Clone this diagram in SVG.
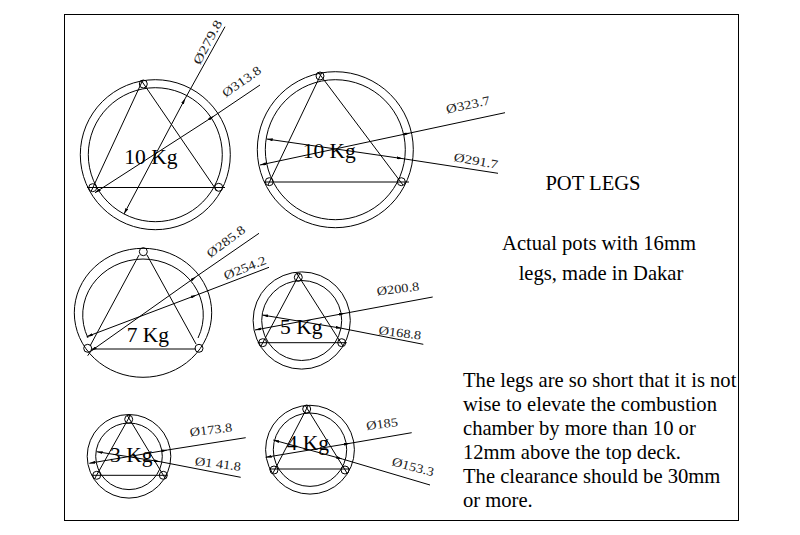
<svg xmlns="http://www.w3.org/2000/svg" width="800" height="535" viewBox="0 0 800 535">
<defs>
<marker id="b" viewBox="0 0 6 3" refX="6" refY="1.5" markerWidth="6" markerHeight="3" markerUnits="userSpaceOnUse" orient="auto-start-reverse"><path d="M6 1.5L0 0V3Z" fill="#000"/></marker>
</defs>
<style>
text{font-family:"Liberation Serif","Times New Roman",serif;fill:#000}
.c,.s,.t{fill:none;stroke:#000;stroke-width:1}
.d{stroke:#000;stroke-width:1;fill:none}
.m{stroke:#000;stroke-width:1;fill:none;marker-start:url(#b);marker-end:url(#b)}
.k{font-size:21.5px}
.l{font-size:12.5px;fill:#222}
.n{font-size:20.6px}
</style>
<rect width="800" height="535" fill="#fff"/>
<rect x="64.5" y="14.5" width="674" height="506" fill="none" stroke="#000"/>
<g id="pot-10kg-a">
<circle class="c" cx="155.3" cy="154.7" r="75"/><circle class="c" cx="155.3" cy="154.7" r="67"/>
<circle class="s" cx="143.3" cy="84" r="4"/><circle class="s" cx="92.7" cy="187.7" r="4"/><circle class="s" cx="218.7" cy="187.3" r="4"/>
<path class="t" d="M87 187.5H225M142.8 80L91.3 191M141 80L217 191"/>
<text class="k" x="124.3" y="164">10 Kg</text>
<text class="l" transform="translate(207.7 42.3) rotate(-62) scale(1.3 1)" text-anchor="middle" dy="4">Ø279.8</text>
<text class="l" transform="translate(241.7 81.7) rotate(-35) scale(1.2 1)" text-anchor="middle" dy="4">Ø313.8</text>
</g>
<g id="pot-10kg-b">
<circle class="c" cx="335.3" cy="149.7" r="78"/><circle class="c" cx="335.3" cy="149.7" r="70"/>
<circle class="s" cx="320" cy="76" r="4"/><circle class="s" cx="269.3" cy="181.7" r="4"/><circle class="s" cx="401.3" cy="181.7" r="4"/>
<path class="t" d="M264 182H409M322 72L268 185M318 72L403 185"/>
<text class="k" x="302.7" y="158">10 Kg</text>
<text class="l" transform="translate(468 105) rotate(-12) scale(1.2 1)" text-anchor="middle" dy="4">Ø323.7</text>
<text class="l" transform="translate(476 161) rotate(10) scale(1.2 1)" text-anchor="middle" dy="4">Ø291.7</text>
</g>
<g id="pot-7kg">
<ellipse class="c" cx="143" cy="312.8" rx="68.7" ry="64.5"/>
<path class="c" d="M88 338A60.3 56 0 1 1 198 338"/>
<circle class="s" cx="143.3" cy="251.7" r="4"/><circle class="s" cx="87.7" cy="348.3" r="4"/><circle class="s" cx="199" cy="348.3" r="4"/>
<path class="t" d="M91 349H196M139 255L90 346M147 255L196 344"/>
<text class="k" x="126.7" y="341.7">7 Kg</text>
<text class="l" transform="translate(226 241.7) rotate(-37) scale(1.2 1)" text-anchor="middle" dy="4">Ø285.8</text>
<text class="l" transform="translate(245 268) rotate(-22) scale(1.2 1)" text-anchor="middle" dy="4">Ø254.2</text>
</g>
<g id="pot-5kg">
<circle class="c" cx="301.7" cy="320.5" r="48.6"/><circle class="c" cx="301.7" cy="320.5" r="40"/>
<circle class="s" cx="298.3" cy="277.3" r="4"/><circle class="s" cx="262.7" cy="342.7" r="4"/><circle class="s" cx="341.7" cy="342.7" r="4"/>
<path class="t" d="M257.7 342.7H346.7M300 273L261 346M296.5 273L343 346"/>
<text class="k" x="280" y="334.3">5 Kg</text>
<text class="l" transform="translate(398 289) rotate(-7) scale(1.15 1)" text-anchor="middle" dy="4">Ø200.8</text>
<text class="l" transform="translate(400 333) rotate(7) scale(1.15 1)" text-anchor="middle" dy="4">Ø168.8</text>
</g>
<g id="pot-3kg">
<circle class="c" cx="129" cy="456.3" r="41.8"/><circle class="c" cx="129" cy="456.3" r="33.3"/>
<circle class="s" cx="128.7" cy="419.3" r="4"/><circle class="s" cx="96.7" cy="475.3" r="4"/><circle class="s" cx="163.3" cy="475.3" r="4"/>
<path class="t" d="M91.7 475.3H167.3M130.5 415L95 478M127 415L165 478"/>
<text class="k" x="110" y="461.7">3 Kg</text>
<text class="l" transform="translate(211 430) rotate(-7) scale(1.15 1)" text-anchor="middle" dy="4">Ø173.8</text>
<text class="l" transform="translate(218 464) rotate(7) scale(1.15 1)" text-anchor="middle" dy="4">Ø1 41.8</text>
</g>
<g id="pot-4kg">
<circle class="c" cx="310" cy="449.7" r="44.4"/><circle class="c" cx="310" cy="449.7" r="36.7"/>
<circle class="s" cx="306.7" cy="409" r="4"/><circle class="s" cx="274" cy="470" r="4"/><circle class="s" cx="345" cy="470" r="4"/>
<path class="t" d="M269 469H350M308.5 405L273 473M305 405L347 473"/>
<text class="k" x="286.7" y="450">4 Kg</text>
<text class="l" transform="translate(382 424) rotate(-7) scale(1.15 1)" text-anchor="middle" dy="4">Ø185</text>
<text class="l" transform="translate(413 467) rotate(15) scale(1.15 1)" text-anchor="middle" dy="4">Ø153.3</text>
</g>
<g id="connectors">
<path class="d" d="M225 26.7L185.3 98.3"/><path class="m" d="M185.3 98.3L124 214"/>
<path class="d" d="M260 85L214 116"/><path class="m" d="M214 116L95 192.7"/>
<path class="d" d="M505 112.7L410 133"/><path class="m" d="M410 133L260 165"/>
<path class="d" d="M498 173.3L403 158.7"/><path class="m" d="M403 158.7L266.7 139"/>
<path class="d" d="M259 233.3L196 276.7"/><path class="m" d="M196 276.7L91 351"/><path class="d" d="M91 351L87.7 355.7"/>
<path class="d" d="M269 267.3L196.7 295"/><path class="m" d="M196.7 295L86.7 336.7"/>
<path class="d" d="M432.7 297L345 313.3"/><path class="m" d="M345 313.3L255 330"/>
<path class="d" d="M423.3 344.3L341.7 328.3"/><path class="m" d="M341.7 328.3L262.3 315"/>
<path class="d" d="M245.7 437.7L167.3 450"/><path class="m" d="M167.3 450L89.3 463.3"/>
<path class="d" d="M240.7 477.3L160 461.7"/><path class="m" d="M160 461.7L96.7 451.7"/>
<path class="d" d="M411.7 432.7L350 443.3"/><path class="m" d="M350 443.3L265.7 457.3"/>
<path class="d" d="M430 485L342.3 459"/><path class="m" d="M342.3 459L273.3 440"/>
</g>
<g id="notes">
<text class="n" x="593" y="190" text-anchor="middle">POT LEGS</text>
<text class="n" x="599" y="250" text-anchor="middle">Actual pots with 16mm</text>
<text class="n" x="601" y="280" text-anchor="middle">legs, made in Dakar</text>
<text class="n" x="463" y="386.7">The legs are so short that it is not</text>
<text class="n" x="463" y="410.7">wise to elevate the combustion</text>
<text class="n" x="463" y="434.7">chamber by more than 10 or</text>
<text class="n" x="463" y="458.7">12mm above the top deck.</text>
<text class="n" x="463" y="482.7">The clearance should be 30mm</text>
<text class="n" x="463" y="506.7">or more.</text>
</g>
</svg>
